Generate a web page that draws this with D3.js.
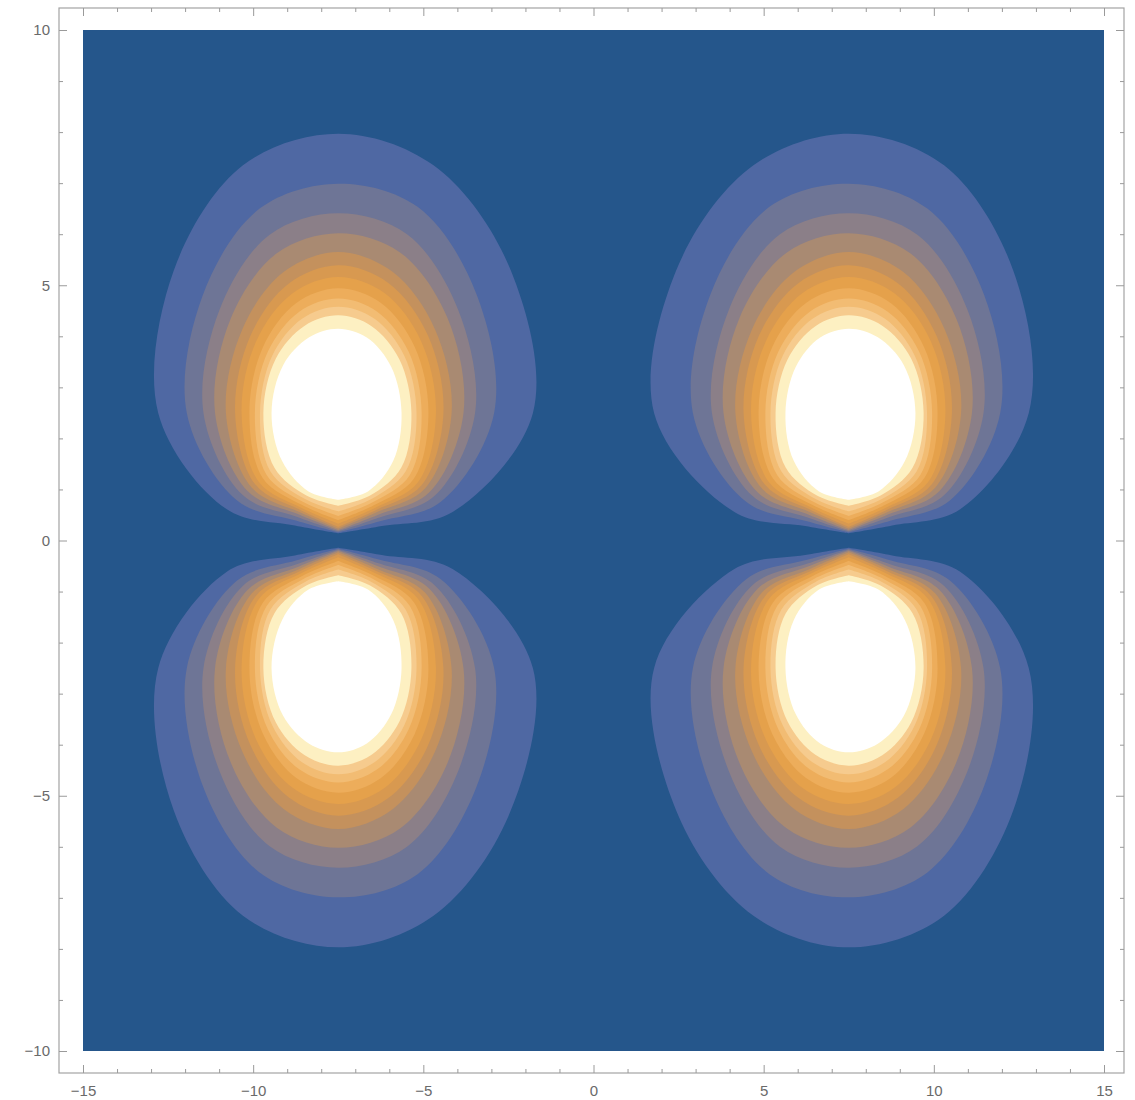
<!DOCTYPE html>
<html>
<head>
<meta charset="utf-8">
<script src="https://cdnjs.cloudflare.com/ajax/libs/d3/7.8.5/d3.min.js"></script>
<style>
  body { margin: 0; background: #fff; }
  svg { display: block; }
  .axis text { font-family: "Liberation Sans", Arial, sans-serif; font-size: 15px; fill: #6a6a6a; }
  .axis line { stroke: #9a9a9a; }
  .axis path { display: none; }
</style>
</head>
<body>
<script>
// Contour plot of four lobes. The picture is symmetric about both axes, so the
// boundaries were read off the upper-left lobe and mirrored for the other three.

// Angles (degrees) at which each contour boundary was read, around the lobe centre.
// The list starts at the pointed bottom tip (270) and goes round back to it.
const angles = [270, 300, 330, 0, 30, 60, 90, 120, 150, 180, 210, 240];
const lobeCentre = [-7.5, 2.5];

// Boundary radius (plot units) of each contour level, outermost level first.
const contourRadii = [
  [2.36, 2.56, 3.88, 5.72, 5.78, 5.60, 5.47, 5.60, 5.58, 5.29, 3.78, 2.55],
  [2.34, 2.45, 3.48, 4.58, 4.68, 4.66, 4.49, 4.62, 4.60, 4.45, 3.43, 2.44],
  [2.32, 2.37, 3.26, 4.02, 4.06, 4.04, 3.91, 4.03, 4.03, 3.96, 3.23, 2.36],
  [2.30, 2.31, 3.10, 3.68, 3.71, 3.63, 3.52, 3.61, 3.66, 3.62, 3.07, 2.30],
  [2.27, 2.25, 2.95, 3.33, 3.28, 3.19, 3.15, 3.19, 3.26, 3.30, 2.93, 2.25],
  [2.23, 2.20, 2.83, 3.09, 3.04, 2.94, 2.89, 2.92, 2.99, 3.03, 2.81, 2.20],
  [2.17, 2.15, 2.71, 2.87, 2.81, 2.71, 2.66, 2.70, 2.79, 2.84, 2.70, 2.15],
  [2.10, 2.09, 2.57, 2.65, 2.59, 2.49, 2.44, 2.48, 2.56, 2.61, 2.56, 2.09],
  [2.02, 2.02, 2.43, 2.45, 2.39, 2.29, 2.24, 2.29, 2.39, 2.45, 2.43, 2.02],
  [1.93, 1.95, 2.29, 2.30, 2.24, 2.13, 2.08, 2.13, 2.24, 2.30, 2.30, 1.95],
  [1.82, 1.87, 2.14, 2.15, 2.08, 1.96, 1.91, 1.97, 2.12, 2.20, 2.16, 1.87],
  [1.70, 1.77, 1.87, 1.86, 1.80, 1.70, 1.65, 1.71, 1.87, 1.96, 1.90, 1.77]
];

// Tick values
const xMajor = [-15, -10, -5, 0, 5, 10, 15];
const yMajor = [-10, -5, 0, 5, 10];
const xMinor = d3.range(-15, 16).filter(v => v % 5 !== 0);
const yMinor = d3.range(-10, 11).filter(v => v % 5 !== 0);

// Colours: background, then one per contour level
const backColor = "#25568b";
const levelColors = ["#4f68a3", "#6e7596", "#8b7f88", "#a98a72", "#c4915d", "#d89950",
                     "#e5a14b", "#edad5b", "#f2bc73", "#f6cb8e", "#fdf0c2", "#ffffff"];

const w = 1135;
const h = 1100;
const frame = { left: 59, right: 1124, top: 8, bottom: 1073 };

const xScale = d3.scaleLinear().domain([-15, 15]).range([83, 1104]);
const yScale = d3.scaleLinear().domain([-10, 10]).range([1051, 30]);

const svg = d3.select("body").append("svg").attr("width", w).attr("height", h);

svg.append("rect")
  .attr("x", xScale(-15))
  .attr("y", yScale(10))
  .attr("width", xScale(15) - xScale(-15))
  .attr("height", yScale(-10) - yScale(10))
  .attr("fill", backColor);

// open curve that starts and ends on the tip, so the tip stays pointed
const line = d3.line()
  .x(d => xScale(d[0]))
  .y(d => yScale(d[1]))
  .curve(d3.curveCatmullRom.alpha(0.5));

// the four lobes: mirror the upper-left one in x and y
const mirrors = [[1, 1], [-1, 1], [1, -1], [-1, -1]];
const plot = svg.append("g");

mirrors.forEach(([mx, my]) => {
  contourRadii.forEach((radii, k) => {
    const pts = angles.map((a, i) => {
      const t = a * Math.PI / 180;
      return [mx * (lobeCentre[0] + radii[i] * Math.cos(t)),
              my * (lobeCentre[1] + radii[i] * Math.sin(t))];
    });
    pts.push(pts[0]);
    plot.append("path")
      .attr("d", line(pts) + "Z")
      .attr("fill", levelColors[k]);
  });
});

// frame
svg.append("rect")
  .attr("x", frame.left)
  .attr("y", frame.top)
  .attr("width", frame.right - frame.left)
  .attr("height", frame.bottom - frame.top)
  .attr("fill", "none")
  .attr("stroke", "#a3a3a3")
  .attr("stroke-width", 1.2);

// ticks point inward on all four sides
function addAxis(axis, tx, ty) {
  svg.append("g").attr("class", "axis")
    .attr("transform", "translate(" + tx + "," + ty + ")")
    .call(axis);
}

addAxis(d3.axisBottom(xScale).tickValues(xMajor).tickSizeInner(-8).tickSizeOuter(0).tickPadding(12), 0, frame.bottom);
addAxis(d3.axisBottom(xScale).tickValues(xMinor).tickSizeInner(-4).tickSizeOuter(0).tickFormat(""), 0, frame.bottom);
addAxis(d3.axisTop(xScale).tickValues(xMajor).tickSizeInner(-8).tickSizeOuter(0).tickFormat(""), 0, frame.top);
addAxis(d3.axisTop(xScale).tickValues(xMinor).tickSizeInner(-4).tickSizeOuter(0).tickFormat(""), 0, frame.top);
addAxis(d3.axisLeft(yScale).tickValues(yMajor).tickSizeInner(-8).tickSizeOuter(0).tickPadding(9), frame.left, 0);
addAxis(d3.axisLeft(yScale).tickValues(yMinor).tickSizeInner(-4).tickSizeOuter(0).tickFormat(""), frame.left, 0);
addAxis(d3.axisRight(yScale).tickValues(yMajor).tickSizeInner(-8).tickSizeOuter(0).tickFormat(""), frame.right, 0);
addAxis(d3.axisRight(yScale).tickValues(yMinor).tickSizeInner(-4).tickSizeOuter(0).tickFormat(""), frame.right, 0);
</script>
</body>
</html>
